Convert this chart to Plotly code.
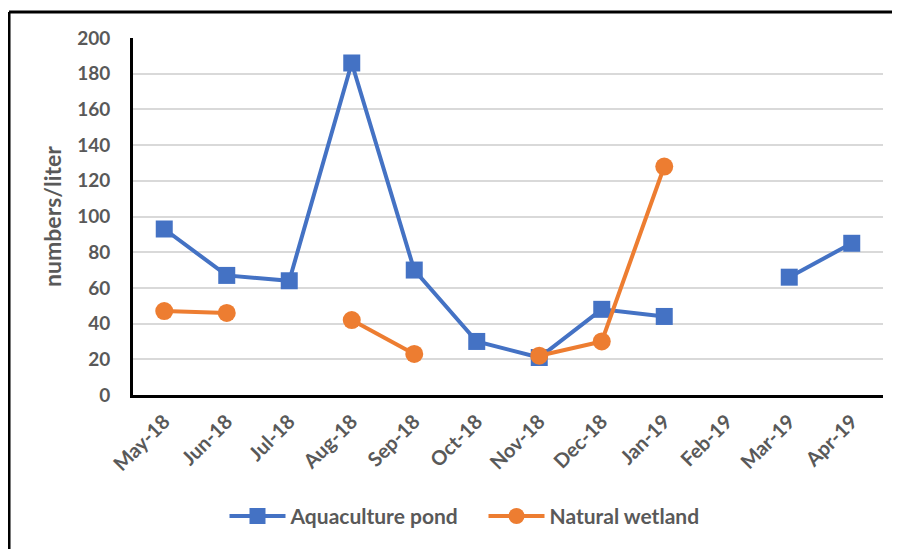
import plotly.graph_objects as go

months = ["May-18", "Jun-18", "Jul-18", "Aug-18", "Sep-18", "Oct-18",
          "Nov-18", "Dec-18", "Jan-19", "Feb-19", "Mar-19", "Apr-19"]
aquaculture = [93, 67, 64, 186, 70, 30, 21, 48, 44, None, 66, 85]
wetland = [47, 46, None, 42, 23, None, 22, 30, 128, None, None, None]

FONT = "Lato"
GRAY = "#595959"

fig = go.Figure()
fig.add_trace(go.Scatter(
    x=months, y=aquaculture, name="Aquaculture pond", mode="lines+markers",
    line=dict(color="#4472C4", width=4),
    marker=dict(symbol="square", size=17, color="#4472C4"),
    connectgaps=False,
))
fig.add_trace(go.Scatter(
    x=months, y=wetland, name="Natural wetland", mode="lines+markers",
    line=dict(color="#ED7D31", width=4),
    marker=dict(symbol="circle", size=18, color="#ED7D31"),
    connectgaps=False,
))

# page body has an 8px margin, so the figure is sized to fit the window
fig.update_layout(
    width=892, height=541,
    margin=dict(l=125, r=17, t=30, b=154),
    paper_bgcolor="white", plot_bgcolor="white",
    font=dict(family=FONT, color=GRAY, size=16, weight="bold"),
    showlegend=True,
    legend=dict(orientation="h", x=0.122, xanchor="left", y=-0.34, yanchor="middle",
                font=dict(family=FONT, size=21, color=GRAY, weight="bold"),
                itemwidth=56, entrywidth=188, entrywidthmode="pixels",
                traceorder="normal"),
    xaxis=dict(
        type="category", categoryorder="array", categoryarray=months,
        range=[-0.5, 11.5], tickangle=-45, showgrid=False, automargin=False,
        showline=True, linecolor="black", linewidth=3,
        ticks="", ticklabelstandoff=4,
        tickfont=dict(family=FONT, size=20, color=GRAY, weight="bold"),
    ),
    yaxis=dict(
        range=[0, 200], dtick=20, showgrid=True, gridcolor="#D9D9D9", gridwidth=1.5,
        showline=True, linecolor="black", linewidth=3, zeroline=False, automargin=False,
        ticks="", ticklabelstandoff=16,
        tickfont=dict(family=FONT, size=19, color=GRAY, weight="bold"),
        title=dict(text="numbers/liter", standoff=10,
                   font=dict(family=FONT, size=23, color=GRAY, weight="bold")),
    ),
)

# outer chart frame (top and left edges visible in the reference)
fig.add_shape(type="line", xref="paper", yref="paper",
              x0=-0.1653, x1=1.2, y0=1.0728, y1=1.0728,
              line=dict(color="black", width=3))
fig.add_shape(type="line", xref="paper", yref="paper",
              x0=-0.1653, x1=-0.1653, y0=1.0728, y1=-0.6,
              line=dict(color="black", width=3))

fig.write_html("out.html")
